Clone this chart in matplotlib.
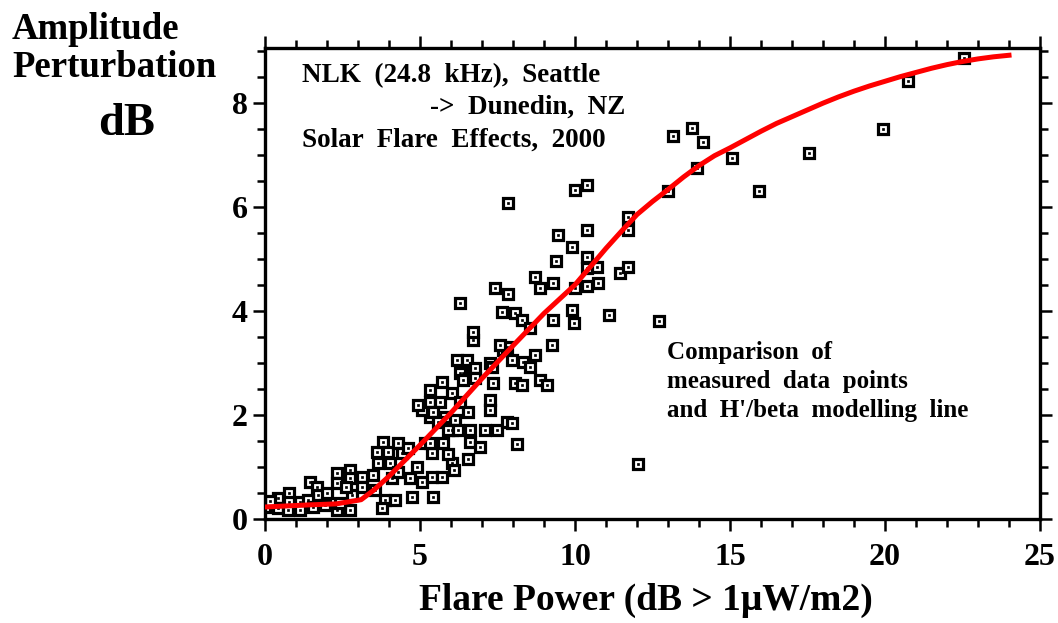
import numpy as np
import matplotlib.pyplot as plt

plt.rcParams['font.family'] = ['Liberation Serif', 'DejaVu Serif']
plt.rcParams['font.weight'] = 'bold'

# measured data points (flare power dB, amplitude perturbation dB)
flare_x = [0.0, 0.42, 0.42, 0.77, 0.77, 0.74, 1.13, 1.13, 1.45, 1.68, 1.71, 1.39,
           1.55, 1.94, 2.32, 2.32, 2.32, 2.74, 2.74, 2.81, 2.74, 2.42, 3.13, 3.13,
           0.15, 2.0, 2.6,
           3.48, 3.61, 3.81, 3.65, 3.97, 4.03, 4.29, 4.10, 4.42, 4.29, 4.61, 4.68,
           4.74, 4.90, 5.16, 5.06, 5.39, 5.39, 5.42, 5.71, 5.74, 5.81, 6.03, 6.03,
           5.32, 5.06, 3.55, 3.87, 4.19, 3.77,
           6.71, 6.19, 6.52, 6.77, 6.39, 6.77, 7.26, 7.68, 5.71, 5.32, 6.03, 4.94,
           5.32, 5.65, 6.29, 7.26, 7.26, 5.42, 6.55, 5.58, 6.13, 5.90, 6.23, 6.61,
           7.10, 7.48, 7.81, 6.61, 6.94, 5.32, 8.13, 7.97, 6.55, 6.10, 5.90,
           6.29, 7.42, 7.84, 8.71, 8.87, 9.29, 7.65, 8.06, 8.29, 8.55, 9.29, 6.71,
           7.81, 7.58, 8.71, 9.26, 7.32, 7.97, 8.32, 8.55, 6.29, 6.39, 7.35, 8.06,
           8.29, 8.87, 9.10,
           7.84, 10.0, 10.4, 11.7, 11.7, 10.4, 9.45, 9.9, 10.4, 9.4, 10.4, 10.7,
           11.45, 11.7, 10.0, 10.4, 10.74, 9.9, 9.97, 11.1, 12.7, 12.03,
           13.16, 13.77, 14.13, 13.94, 13.0, 15.06, 15.94, 17.55, 19.94, 20.74, 22.55]
flare_y = [0.23, 0.40, 0.21, 0.50, 0.33, 0.17, 0.33, 0.17, 0.71, 0.62, 0.46, 0.37,
           0.23, 0.27, 0.88, 0.69, 0.17, 0.94, 0.79, 0.46, 0.17, 0.31, 0.81, 0.62,
           0.35, 0.50, 0.62,
           0.85, 1.29, 1.48, 1.08, 1.29, 1.08, 1.46, 0.79, 1.27, 0.90, 1.37, 0.79,
           0.42, 1.00, 1.46, 0.71, 1.27, 0.81, 0.42, 0.81, 1.46, 1.96, 1.71, 1.08,
           1.96, 2.10, 0.56, 0.37, 0.37, 0.21,
           3.44, 3.06, 3.06, 2.90, 2.81, 2.71, 3.00, 3.25, 2.63, 2.48, 2.42, 2.19,
           2.25, 2.25, 2.25, 2.29, 2.10, 2.06, 2.06, 1.87, 1.90, 1.71, 1.71, 1.71,
           1.71, 1.71, 1.87, 1.48, 1.38, 1.46, 1.44, 1.85, 1.15, 0.95, 1.25,
           4.15, 4.44, 4.33, 4.65, 4.44, 4.54, 3.98, 3.96, 3.83, 3.67, 3.83, 3.60,
           3.31, 3.35, 3.15, 3.35, 2.92, 3.06, 3.02, 2.92, 2.81, 2.67, 2.62, 2.62,
           2.58, 2.67, 2.58,
           6.07, 6.33, 6.42, 5.80, 5.55, 5.56, 5.46, 5.23, 5.04, 4.96, 4.83, 4.85,
           4.73, 4.85, 4.44, 4.48, 4.54, 4.02, 3.77, 3.92, 3.81, 1.06,
           7.35, 7.52, 7.25, 6.75, 6.31, 6.94, 6.31, 7.04, 7.50, 8.42, 8.85]

# H'/beta modelling line
model_x = [0.0, 1.4, 2.3, 3.1, 3.5, 4.0, 5.0, 6.0, 7.0, 8.0, 9.0, 10.0, 10.5,
           11.0, 11.5, 12.0, 12.5, 13.0, 13.5, 14.0, 14.5, 15.0, 15.5, 16.0,
           16.5, 17.0, 17.5, 18.0, 18.5, 19.0, 19.5, 20.0, 20.5, 21.0, 21.5,
           22.0, 22.5, 23.0, 23.5, 24.0]
model_y = [0.23, 0.27, 0.29, 0.37, 0.55, 0.82, 1.42, 2.04, 2.70, 3.33, 3.95, 4.50,
           4.85, 5.20, 5.53, 5.85, 6.10, 6.33, 6.57, 6.79, 6.98, 7.13, 7.29, 7.45,
           7.60, 7.73, 7.86, 7.99, 8.11, 8.22, 8.32, 8.41, 8.50, 8.58, 8.66,
           8.73, 8.79, 8.84, 8.88, 8.91]

fig = plt.figure(figsize=(10.58, 6.23), dpi=100)
ax = fig.add_axes([0.2505, 0.167, 0.7325, 0.756])

ax.plot(flare_x, flare_y, 's', ms=7.8, mfc='white', mec='black', mew=2.3, zorder=2)
ax.plot(flare_x, flare_y, 's', ms=1.6, mfc='black', mec='black', mew=0.5, zorder=3)
ax.plot(model_x, model_y, '-', color='#ff0000', lw=3.6, zorder=4)

ax.set_xlim(0, 25)
ax.set_ylim(0, 9.05)
ax.set_xticks([0, 5, 10, 15, 20, 25])
ax.set_xticks(np.arange(0, 26, 1), minor=True)
ax.set_yticks([0, 2, 4, 6, 8])
ax.set_yticks(np.arange(0, 9.01, 0.5), minor=True)

for s in ax.spines.values():
    s.set_linewidth(2.4)
ax.tick_params(which='both', direction='out', width=1.8, top=True, right=True,
               labelsize=23)
ax.tick_params(which='major', length=8.5)
ax.tick_params(which='minor', length=5.5)
ax.tick_params(axis='x', pad=9)
ax.tick_params(axis='y', pad=4)

fig.text(0.6106, 0.021, 'Flare Power (dB > 1\u03bcW/m2)', ha='center',
         va='baseline', fontsize=27, fontweight='bold')
fig.text(0.0113, 0.937, 'Amplitude', ha='left', va='baseline', fontsize=26.5,
         fontweight='bold')
fig.text(0.0113, 0.876, 'Perturbation', ha='left', va='baseline', fontsize=26.5,
         fontweight='bold')
fig.text(0.12, 0.783, 'dB', ha='center', va='baseline', fontsize=33.5,
         fontweight='bold')

fig.text(0.2854, 0.868, 'NLK  (24.8  kHz),  Seattle', fontsize=19.5,
         fontweight='bold', va='baseline')
fig.text(0.4064, 0.817, '->  Dunedin,  NZ', fontsize=19.5, fontweight='bold',
         va='baseline')
fig.text(0.2854, 0.764, 'Solar  Flare  Effects,  2000', fontsize=19.5,
         fontweight='bold', va='baseline')

fig.text(0.6304, 0.424, 'Comparison  of', fontsize=18, fontweight='bold',
         va='baseline')
fig.text(0.6304, 0.378, 'measured  data  points', fontsize=18,
         fontweight='bold', va='baseline')
fig.text(0.6304, 0.330, "and  H'/beta  modelling  line", fontsize=18,
         fontweight='bold', va='baseline')

fig.savefig('out.png', dpi=100)
